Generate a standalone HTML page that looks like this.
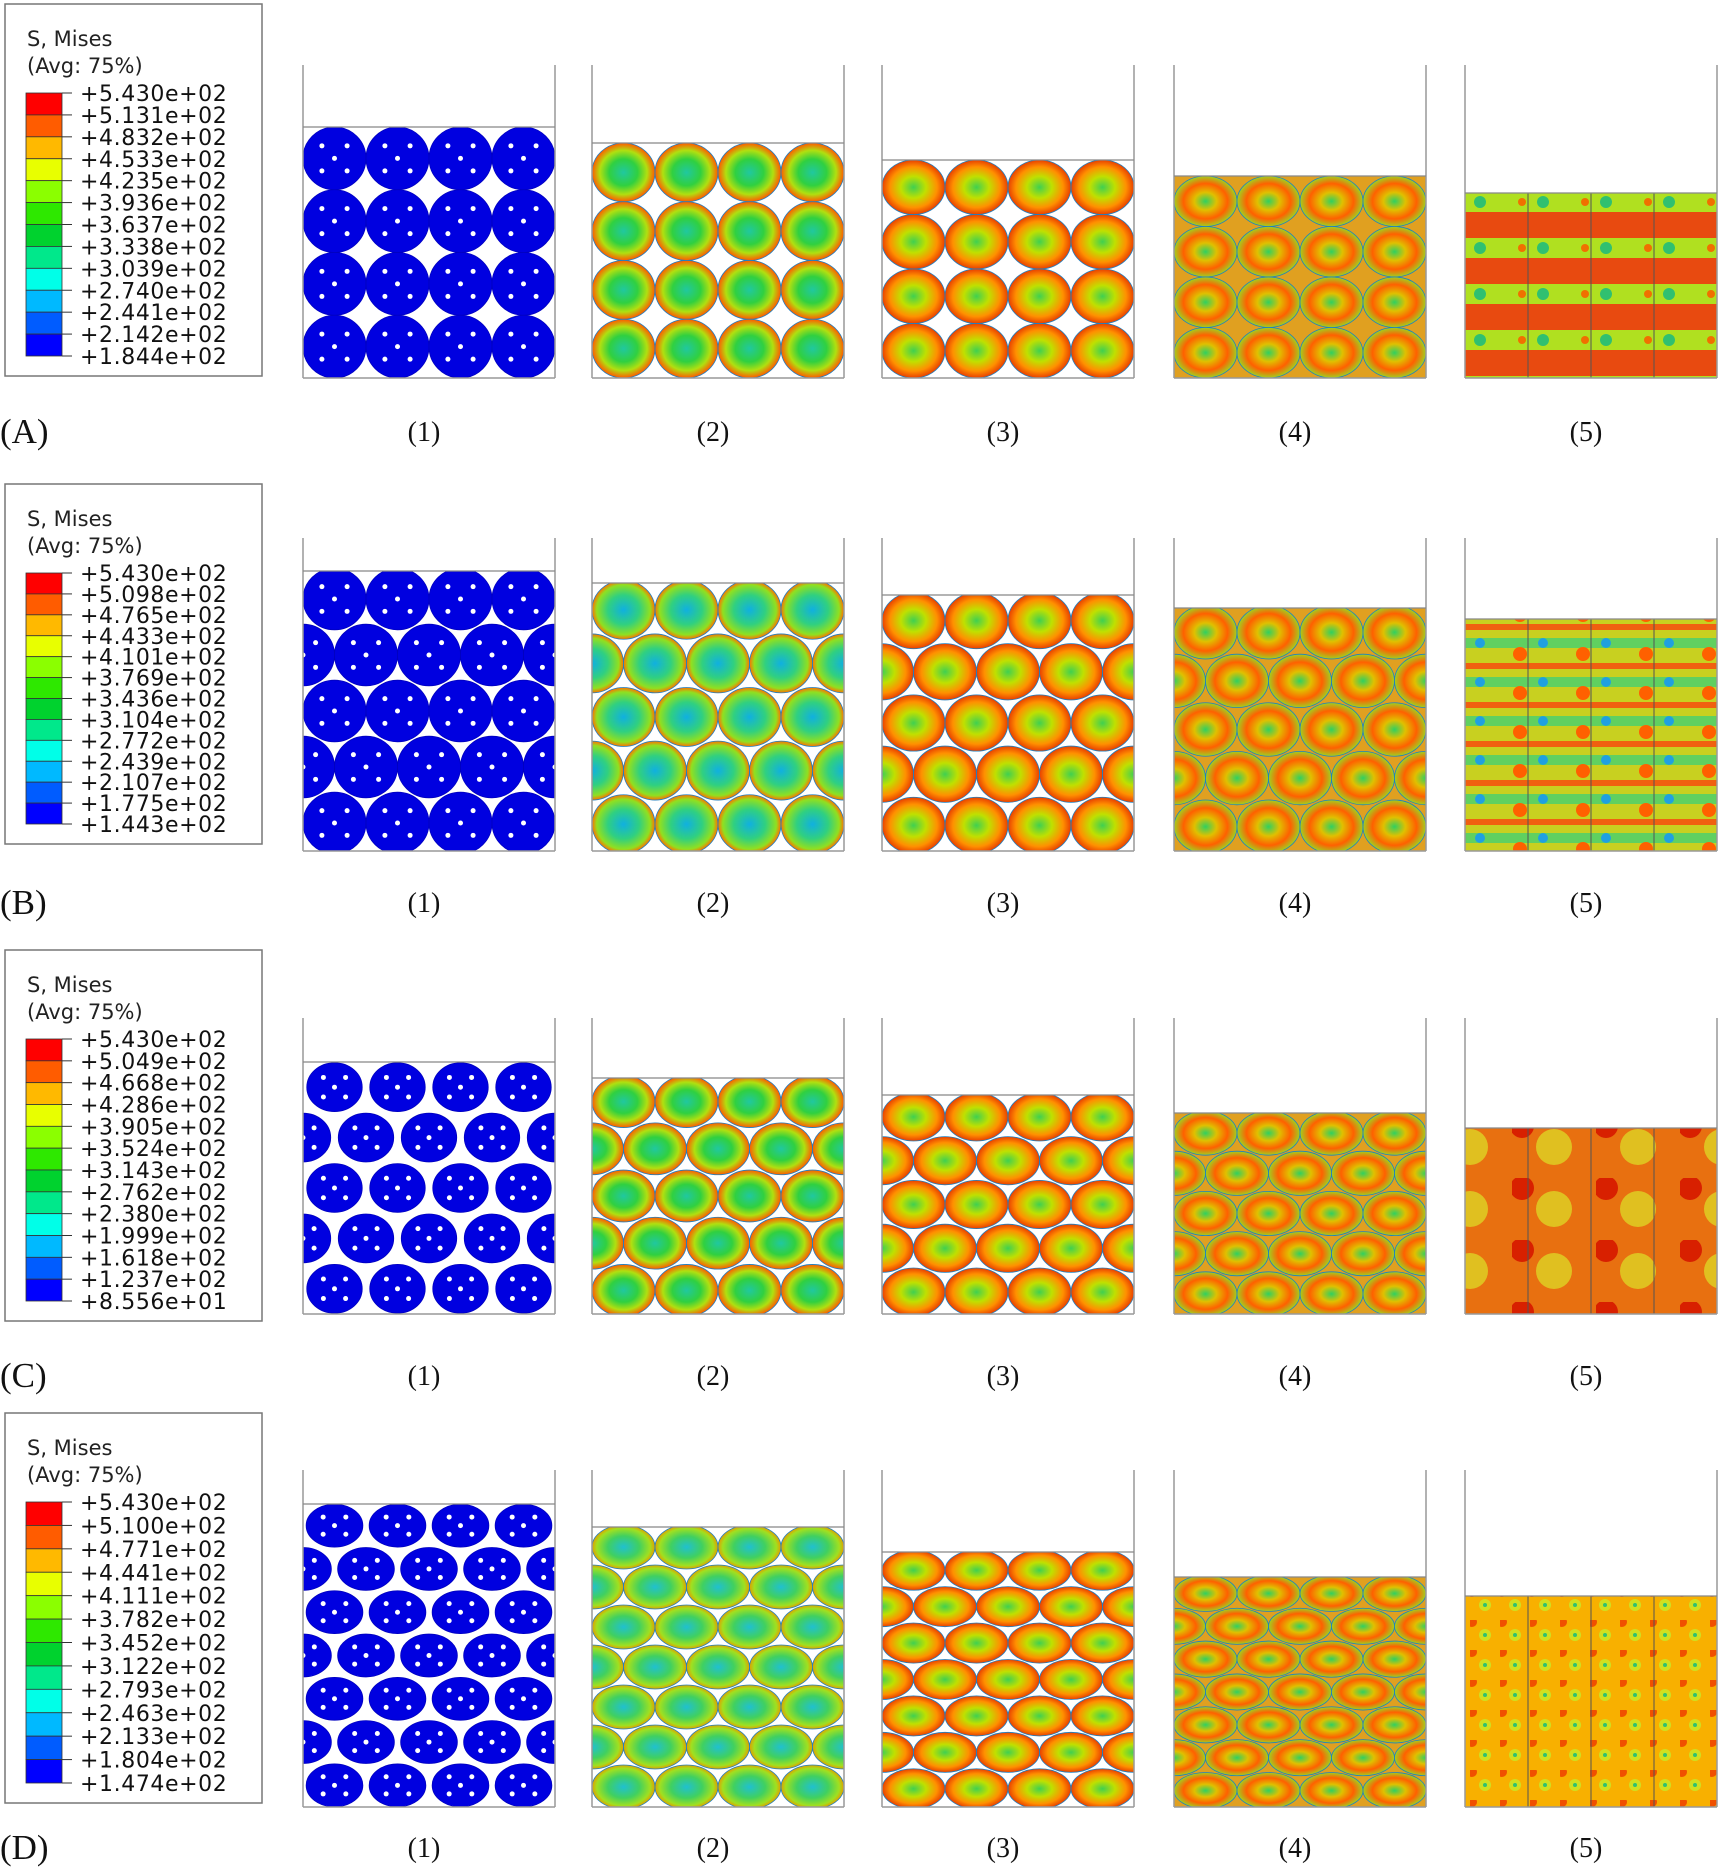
<!DOCTYPE html>
<html><head><meta charset="utf-8">
<style>
html,body{margin:0;padding:0;background:#fff;}
body{width:1720px;height:1869px;position:relative;overflow:hidden;font-family:"Liberation Sans",sans-serif;}
svg{position:absolute;left:0;top:0;}
</style></head>
<body>
<svg id="fig" width="1720" height="1869" viewBox="0 0 1720 1869" xmlns="http://www.w3.org/2000/svg">
<defs>
<radialGradient id="gS2" cx="50%" cy="50%" r="50%">
<stop offset="0" stop-color="#20c8a0"/><stop offset="0.45" stop-color="#30d040"/><stop offset="0.75" stop-color="#b0e010"/><stop offset="1" stop-color="#ff5a00"/></radialGradient>
<radialGradient id="gS3" cx="50%" cy="50%" r="50%">
<stop offset="0" stop-color="#40d050"/><stop offset="0.4" stop-color="#c0e000"/><stop offset="0.75" stop-color="#ff9000"/><stop offset="1" stop-color="#e84000"/></radialGradient>
<radialGradient id="gS4" cx="50%" cy="50%" r="50%">
<stop offset="0" stop-color="#30d060"/><stop offset="0.35" stop-color="#e0c000"/><stop offset="0.7" stop-color="#ff6000"/><stop offset="1" stop-color="#a0d020"/></radialGradient>
<radialGradient id="gB2" cx="50%" cy="50%" r="50%">
<stop offset="0" stop-color="#10b0e0"/><stop offset="0.5" stop-color="#30d080"/><stop offset="0.85" stop-color="#90e020"/><stop offset="1" stop-color="#ff7000"/></radialGradient>
<radialGradient id="gD2" cx="50%" cy="50%" r="50%">
<stop offset="0" stop-color="#20c0d0"/><stop offset="0.5" stop-color="#40d060"/><stop offset="0.85" stop-color="#a0e020"/><stop offset="1" stop-color="#e0a000"/></radialGradient>
<pattern id="p5A" width="63" height="46" patternUnits="userSpaceOnUse">
<rect width="63" height="46" fill="#e84a10"/><rect y="8" width="63" height="20" fill="#b0e020"/><circle cx="31" cy="18" r="6" fill="#30c070"/><circle cx="10" cy="18" r="4" fill="#f07000"/></pattern>
<pattern id="p5B" width="63" height="39" patternUnits="userSpaceOnUse">
<rect width="63" height="39" fill="#c8d020"/><rect y="14" width="63" height="10" fill="#60d060"/><circle cx="31" cy="19" r="5" fill="#20a0e0"/><rect y="0" width="63" height="6" fill="#f06010"/><circle cx="8" cy="30" r="7" fill="#ff6000"/></pattern>
<pattern id="p5C" width="84" height="62" patternUnits="userSpaceOnUse">
<rect width="84" height="62" fill="#e87010"/><circle cx="42" cy="31" r="18" fill="#e0c020"/><circle cx="10" cy="10" r="12" fill="#d82000"/></pattern>
<pattern id="p5D" width="30" height="30" patternUnits="userSpaceOnUse">
<rect width="30" height="30" fill="#f8b000"/><circle cx="15" cy="15" r="6" fill="#d0e020"/><circle cx="15" cy="15" r="2" fill="#30c070"/><circle cx="2" cy="2" r="5" fill="#f05000"/></pattern>
</defs>
<g id="root"></g>
</svg>
<script>
const rowLetters = ["(A)","(B)","(C)","(D)"];
const panelLabels = ["(1)","(2)","(3)","(4)","(5)"];
const legendA = ["+5.430e+02","+5.131e+02","+4.832e+02","+4.533e+02","+4.235e+02","+3.936e+02","+3.637e+02","+3.338e+02","+3.039e+02","+2.740e+02","+2.441e+02","+2.142e+02","+1.844e+02"];
const legendB = ["+5.430e+02","+5.098e+02","+4.765e+02","+4.433e+02","+4.101e+02","+3.769e+02","+3.436e+02","+3.104e+02","+2.772e+02","+2.439e+02","+2.107e+02","+1.775e+02","+1.443e+02"];
const legendC = ["+5.430e+02","+5.049e+02","+4.668e+02","+4.286e+02","+3.905e+02","+3.524e+02","+3.143e+02","+2.762e+02","+2.380e+02","+1.999e+02","+1.618e+02","+1.237e+02","+8.556e+01"];
const legendD = ["+5.430e+02","+5.100e+02","+4.771e+02","+4.441e+02","+4.111e+02","+3.782e+02","+3.452e+02","+3.122e+02","+2.793e+02","+2.463e+02","+2.133e+02","+1.804e+02","+1.474e+02"];
const bandColors = ["#ff0000","#ff5c00","#ffb900","#e8ff00","#8bff00","#2ee800","#00d22e","#00e88b","#00ffe8","#00b9ff","#005cff","#0000ff"];
const fillTopsA = [127,143,160,176,193];
const fillTopsB = [571,583,595,608,619];
const fillTopsC = [1062,1078,1095,1113,1128];
const fillTopsD = [1504,1527,1552,1577,1596];

const NS="http://www.w3.org/2000/svg";
const root=document.getElementById('root');
function mk(tag,attrs,parent){const e=document.createElementNS(NS,tag);for(const k in attrs)e.setAttribute(k,attrs[k]);(parent||root).appendChild(e);return e;}

const rows=[
 {leg:legendA,tops:fillTopsA,box:[5,4,257,372],wall:65,bottom:378,label:431,grid:[4,4,0]},
 {leg:legendB,tops:fillTopsB,box:[5,484,257,360],wall:538,bottom:851,label:902,grid:[5,4,1]},
 {leg:legendC,tops:fillTopsC,box:[5,950,257,371],wall:1018,bottom:1314,label:1375,grid:[5,4,1]},
 {leg:legendD,tops:fillTopsD,box:[5,1413,257,390],wall:1470,bottom:1807,label:1847,grid:[7,4,1]}
];
const panelX=[303,592,882,1174,1465];
const panelW=252;
const grads=[null,"gS2","gS3","gS4"];

rows.forEach((r,ri)=>{
  const g=mk('g',{});
  
  
  const [bx,by,bw,bh]=r.box;
  const lg=mk('g',{},g);
  
  
  mk('rect',{x:bx,y:by,width:bw,height:bh,fill:'#fff',stroke:'#777','stroke-width':1.5},lg);
  const t1=mk('text',{x:27,y:by+42,'font-size':21,fill:'#222','font-family':'DejaVu Sans, sans-serif'},lg);t1.textContent='S, Mises';
  
  
  const t2=mk('text',{x:27,y:by+69,'font-size':21,fill:'#222','font-family':'DejaVu Sans, sans-serif'},lg);t2.textContent='(Avg: 75%)';
  
  
  const barTop=by+89, step=(bh-89-20)/12;
  bandColors.forEach((c,i)=>{
    const b=mk('rect',{x:26,y:barTop+i*step,width:36,height:step,fill:c,stroke:'#333','stroke-width':0.8},lg);
    
    
  });
  r.leg.forEach((v,i)=>{
    const y=barTop+i*step;
    mk('line',{x1:62,y1:y,x2:72,y2:y,stroke:'#333','stroke-width':1},lg);
    const t=mk('text',{x:80,y:y+8,'font-size':22,'letter-spacing':'0.6',fill:'#111','font-family':'DejaVu Sans, sans-serif'},lg);
    t.textContent=v;
    
    
  });
  const rl=mk('text',{x:0,y:r.label+12,'font-size':35,fill:'#111','font-family':'Liberation Serif, serif'},g);
  rl.textContent=rowLetters[ri];
  
  
  panelX.forEach((px,pi)=>{
    const pg=mk('g',{},g);
    
    
    const top=r.tops[pi], h=r.bottom-top;
    const clip=mk('clipPath',{id:'c'+ri+pi},pg);
    mk('rect',{x:px,y:top,width:panelW,height:h},clip);
    const inner=mk('g',{'clip-path':'url(#c'+ri+pi+')'},pg);
    if(pi===4){
      mk('rect',{x:px,y:top,width:panelW,height:h,fill:'url(#p5'+'ABCD'[ri]+')'},inner);
      for(let k=1;k<4;k++) mk('line',{x1:px+k*panelW/4,y1:top,x2:px+k*panelW/4,y2:r.bottom,stroke:'#555','stroke-width':1},inner);
    } else {
      const [nr,nc,stag]=r.grid;
      const cw=panelW/nc, ch=h/nr;
      let fill = pi===0?'#0000e0':(ri===1&&pi===1?'url(#gB2)':(ri===3&&pi===1?'url(#gD2)':'url(#'+grads[pi]+')'));
      if(pi>0) mk('rect',{x:px,y:top,width:panelW,height:h,fill: pi>=3?'#e0a020':'#fff'},inner);
      for(let i=0;i<nr;i++){
        const off = stag && (i%2===1) ? cw/2 : 0;
        for(let j=-1;j<=nc;j++){
          const cx=px+off+cw*(j+0.5), cy=top+ch*(i+0.5);
          if(cx<px-cw/2||cx>px+panelW+cw/2) continue;
          const sh=(ri===2&&pi===0)?0.88:(ri===3&&pi===0?0.9:1);
          const rx=cw/2*sh, ry=ch/2*sh*(stag&&ri>0?1.1:1);
          const c=mk('ellipse',{cx:cx,cy:cy,rx:rx,ry:ry,fill:fill,stroke:pi===0?'#0000c0':'#2080c0','stroke-width':0.8},inner);
          
          
          if(pi===0){
            [[-0.4,-0.4],[0.4,-0.4],[0,0],[-0.4,0.4],[0.4,0.4]].forEach(d=>{
              mk('circle',{cx:cx+d[0]*rx,cy:cy+d[1]*ry,r:2.5,fill:'#fff'},inner);
            });
          }
        }
      }
    }
    mk('line',{x1:px,y1:r.wall,x2:px,y2:r.bottom,stroke:'#999','stroke-width':1.5},pg);
    mk('line',{x1:px+panelW,y1:r.wall,x2:px+panelW,y2:r.bottom,stroke:'#999','stroke-width':1.5},pg);
    mk('line',{x1:px,y1:r.bottom,x2:px+panelW,y2:r.bottom,stroke:'#999','stroke-width':1.5},pg);
    mk('line',{x1:px,y1:top,x2:px+panelW,y2:top,stroke:'#888','stroke-width':1.2},pg);
    const pl=mk('text',{x:px+panelW/2-5,y:r.label+10,'font-size':28,'text-anchor':'middle',fill:'#111','font-family':'Liberation Serif, serif'},pg);
    pl.textContent=panelLabels[pi];
    
    
  });
});
</script>
</body></html>
